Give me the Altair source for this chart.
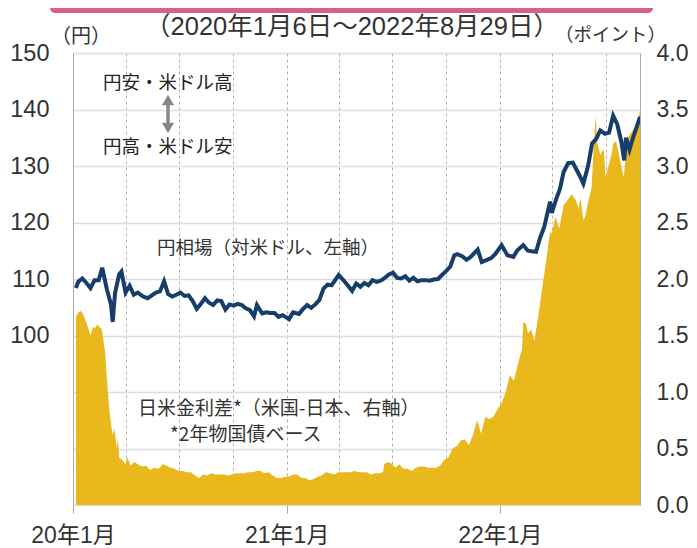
import altair as alt
import pandas as pd

# ---------------- data ----------------
fx_dates = [
    "2020-01-06", "2020-01-10", "2020-01-17", "2020-01-24", "2020-01-31", "2020-02-07", "2020-02-14",
    "2020-02-20", "2020-02-28", "2020-03-06", "2020-03-09", "2020-03-13", "2020-03-20", "2020-03-24",
    "2020-03-31", "2020-04-07", "2020-04-14", "2020-04-21", "2020-04-30", "2020-05-08", "2020-05-15",
    "2020-05-22", "2020-05-29", "2020-06-05", "2020-06-12", "2020-06-19", "2020-06-26", "2020-07-03",
    "2020-07-10", "2020-07-17", "2020-07-24", "2020-07-31", "2020-08-07", "2020-08-14", "2020-08-21",
    "2020-08-28", "2020-09-04", "2020-09-11", "2020-09-18", "2020-09-25", "2020-10-02", "2020-10-09",
    "2020-10-16", "2020-10-23", "2020-10-30", "2020-11-06", "2020-11-11", "2020-11-20", "2020-11-27",
    "2020-12-04", "2020-12-11", "2020-12-18", "2020-12-25", "2021-01-05", "2021-01-12", "2021-01-22",
    "2021-01-29", "2021-02-05", "2021-02-12", "2021-02-19", "2021-02-26", "2021-03-05", "2021-03-12",
    "2021-03-19", "2021-03-31", "2021-04-09", "2021-04-16", "2021-04-23", "2021-04-30", "2021-05-07",
    "2021-05-14", "2021-05-21", "2021-05-28", "2021-06-04", "2021-06-11", "2021-06-18", "2021-06-25",
    "2021-07-02", "2021-07-09", "2021-07-16", "2021-07-23", "2021-07-30", "2021-08-06", "2021-08-13",
    "2021-08-20", "2021-08-27", "2021-09-03", "2021-09-10", "2021-09-17", "2021-09-24", "2021-09-30",
    "2021-10-08", "2021-10-15", "2021-10-20", "2021-10-29", "2021-11-05", "2021-11-12", "2021-11-24",
    "2021-12-01", "2021-12-10", "2021-12-17", "2021-12-24", "2022-01-04", "2022-01-14", "2022-01-24",
    "2022-01-31", "2022-02-10", "2022-02-18", "2022-02-24", "2022-03-04", "2022-03-11", "2022-03-18",
    "2022-03-28", "2022-03-31", "2022-04-08", "2022-04-14", "2022-04-20", "2022-04-28", "2022-05-06",
    "2022-05-13", "2022-05-20", "2022-05-24", "2022-06-01", "2022-06-08", "2022-06-15", "2022-06-22",
    "2022-06-30", "2022-07-07", "2022-07-14", "2022-07-21", "2022-07-28", "2022-08-02", "2022-08-05",
    "2022-08-11", "2022-08-17", "2022-08-23", "2022-08-29",
]
fx_values = [
    108.4, 109.5, 110.1, 109.3, 108.4, 109.8, 109.8,
    112.0, 108.2, 105.5, 102.4, 107.5, 110.8, 111.3,
    107.6, 108.8, 107.2, 107.6, 106.9, 106.6, 107.1,
    107.6, 107.8, 109.6, 107.3, 106.9, 107.2, 107.6,
    107.0, 107.1, 106.1, 104.7, 105.6, 106.6, 105.8,
    105.4, 106.2, 106.1, 104.6, 105.5, 105.3, 105.6,
    105.4, 104.8, 104.5, 103.4, 105.4, 103.9, 104.1,
    104.0, 104.0, 103.3, 103.6, 102.9, 104.1, 103.8,
    104.7, 105.4, 104.9, 105.5, 106.3, 108.3, 109.0,
    108.9, 110.7, 109.7, 108.8, 107.9, 109.2, 108.6,
    109.3, 108.9, 109.8, 109.5, 109.7, 110.2, 110.8,
    111.1, 110.2, 110.1, 110.5, 109.7, 110.2, 109.6,
    109.8, 109.8, 109.7, 109.9, 110.0, 110.7, 111.3,
    112.2, 114.2, 114.4, 114.0, 113.4, 113.9, 115.2,
    113.0, 113.4, 113.7, 114.4, 116.0, 114.2, 113.9,
    115.1, 116.0, 115.0, 114.9, 114.8, 117.3, 119.2,
    123.7, 121.7, 124.3, 126.0, 128.9, 130.5, 130.6,
    129.2, 127.8, 126.9, 130.0, 134.0, 134.8, 136.3,
    135.7, 135.9, 138.9, 137.4, 134.3, 131.0, 135.0,
    132.9, 135.0, 136.8, 138.7,
]

spread_dates = [
    "2020-01-06", "2020-01-09", "2020-01-14", "2020-01-17", "2020-01-22", "2020-01-28", "2020-01-31",
    "2020-02-04", "2020-02-07", "2020-02-12", "2020-02-14", "2020-02-19", "2020-02-21", "2020-02-25",
    "2020-02-28", "2020-03-03", "2020-03-06", "2020-03-09", "2020-03-12", "2020-03-16", "2020-03-18",
    "2020-03-20", "2020-03-25", "2020-03-31", "2020-04-03", "2020-04-09", "2020-04-15", "2020-04-21",
    "2020-04-28", "2020-05-05", "2020-05-12", "2020-05-19", "2020-05-26", "2020-06-03", "2020-06-09",
    "2020-06-16", "2020-06-23", "2020-06-30", "2020-07-07", "2020-07-14", "2020-07-21", "2020-07-28",
    "2020-08-04", "2020-08-11", "2020-08-18", "2020-08-25", "2020-09-01", "2020-09-08", "2020-09-15",
    "2020-09-22", "2020-09-29", "2020-10-06", "2020-10-13", "2020-10-20", "2020-10-27", "2020-11-03",
    "2020-11-10", "2020-11-17", "2020-11-24", "2020-12-01", "2020-12-08", "2020-12-15", "2020-12-22",
    "2020-12-29", "2021-01-05", "2021-01-12", "2021-01-19", "2021-01-26", "2021-02-02", "2021-02-09",
    "2021-02-16", "2021-02-23", "2021-03-02", "2021-03-09", "2021-03-16", "2021-03-23", "2021-03-30",
    "2021-04-06", "2021-04-13", "2021-04-20", "2021-04-27", "2021-05-04", "2021-05-11", "2021-05-18",
    "2021-05-25", "2021-06-01", "2021-06-08", "2021-06-15", "2021-06-17", "2021-06-22", "2021-06-29",
    "2021-07-06", "2021-07-13", "2021-07-20", "2021-07-27", "2021-08-03", "2021-08-10", "2021-08-17",
    "2021-08-24", "2021-08-31", "2021-09-07", "2021-09-14", "2021-09-21", "2021-09-28", "2021-10-05",
    "2021-10-12", "2021-10-19", "2021-10-26", "2021-11-02", "2021-11-09", "2021-11-16", "2021-11-23",
    "2021-11-30", "2021-12-07", "2021-12-14", "2021-12-21", "2021-12-28", "2022-01-04", "2022-01-11",
    "2022-01-18", "2022-01-25", "2022-02-01", "2022-02-08", "2022-02-10", "2022-02-15", "2022-02-18",
    "2022-02-24", "2022-03-01", "2022-03-08", "2022-03-14", "2022-03-21", "2022-03-28", "2022-03-31",
    "2022-04-06", "2022-04-13", "2022-04-20", "2022-04-27", "2022-05-04", "2022-05-11", "2022-05-16",
    "2022-05-19", "2022-05-24", "2022-05-27", "2022-06-02", "2022-06-07", "2022-06-10", "2022-06-14",
    "2022-06-17", "2022-06-22", "2022-06-28", "2022-07-01", "2022-07-06", "2022-07-12", "2022-07-14",
    "2022-07-19", "2022-07-26", "2022-08-01", "2022-08-04", "2022-08-08", "2022-08-12", "2022-08-17",
    "2022-08-22", "2022-08-26", "2022-08-29",
]
spread_values = [
    1.66, 1.70, 1.72, 1.70, 1.64, 1.55, 1.50,
    1.58, 1.56, 1.60, 1.58, 1.56, 1.50, 1.35,
    1.12, 0.85, 0.72, 0.62, 0.68, 0.50, 0.60,
    0.42, 0.40, 0.36, 0.42, 0.35, 0.38, 0.36,
    0.34, 0.35, 0.31, 0.33, 0.32, 0.36, 0.35,
    0.33, 0.32, 0.30, 0.30, 0.29, 0.29, 0.26,
    0.24, 0.27, 0.26, 0.28, 0.27, 0.27, 0.27,
    0.26, 0.27, 0.28, 0.28, 0.28, 0.29, 0.29,
    0.30, 0.30, 0.28, 0.29, 0.26, 0.24, 0.24,
    0.25, 0.25, 0.27, 0.27, 0.24, 0.24, 0.22,
    0.23, 0.25, 0.26, 0.29, 0.28, 0.27, 0.29,
    0.29, 0.29, 0.29, 0.30, 0.29, 0.29, 0.29,
    0.27, 0.28, 0.28, 0.29, 0.36, 0.38, 0.37,
    0.33, 0.36, 0.32, 0.32, 0.30, 0.33, 0.34,
    0.34, 0.33, 0.33, 0.33, 0.35, 0.40, 0.42,
    0.50, 0.52, 0.57, 0.58, 0.53, 0.62, 0.75,
    0.63, 0.78, 0.76, 0.78, 0.85, 0.90, 1.00,
    1.15, 1.10, 1.25, 1.38, 1.62, 1.60, 1.52,
    1.55, 1.45, 1.68, 1.90, 2.15, 2.42, 2.40,
    2.55, 2.45, 2.65, 2.70, 2.75, 2.70, 2.62,
    2.72, 2.52, 2.55, 2.70, 2.80, 3.10, 3.44,
    3.20, 3.10, 3.15, 2.90, 3.00, 3.12, 3.20,
    3.22, 3.05, 2.90, 3.05, 3.25, 3.28, 3.32,
    3.35, 3.42, 3.49,
]

left_ticks = [70, 80, 90, 100, 110, 120, 130, 140, 150]
right_ticks = [0, 0.5, 1.0, 1.5, 2.0, 2.5, 3.0, 3.5, 4.0]

title_text = "（2020年1月6日～2022年8月29日）"
left_unit = "（円）"
right_unit = "（ポイント）"
fx_label = "円相場（対米ドル、左軸）"
spread_label = "日米金利差*（米国-日本、右軸）"
spread_note = "*2年物国債ベース"
weak_yen = "円安・米ドル高"
strong_yen = "円高・米ドル安"

fx_df = pd.DataFrame({"date": fx_dates, "fx": fx_values})
sp_df = pd.DataFrame({"date": spread_dates, "spread": spread_values})

LAT = "'Liberation Sans', 'Noto Sans CJK JP'"
JP = "'Noto Sans CJK JP'"
TXT = "#333333"

quarters = [alt.DateTime(year=y, month=m, date=1) for y in (2020, 2021, 2022) for m in (1, 4, 7, 10)
            if not (y == 2022 and m == 10)]
x_scale = alt.Scale(domain=[alt.DateTime(year=2020, month=1, date=1),
                            alt.DateTime(year=2022, month=8, date=29)])
x_axis = alt.Axis(
    values=quarters,
    labelExpr="month(datum.value) === 0 ? timeFormat(datum.value, '%y') + '年1月' : ''",
    grid=True, gridDash=[3, 3], gridColor="#b0b0b0", gridWidth=1,
    tickColor={"condition": {"test": "month(datum.value) === 0", "value": "#aaaaaa"},
               "value": "transparent"},
    tickSize=8, domain=False, labelFontSize=23, labelFont=LAT, labelColor=TXT,
    labelPadding=11, labelFlush=False, labelOverlap=False, title=None,
)
x_enc = alt.X("date:T", scale=x_scale, axis=x_axis)

area = alt.Chart(sp_df).mark_area(color="#E9B81C", opacity=1, clip=True).encode(
    x=x_enc,
    y=alt.Y("spread:Q", scale=alt.Scale(domain=[0, 4], nice=False),
            axis=alt.Axis(orient="right", values=right_ticks, format=".1f", grid=False,
                          ticks=False, domain=False, labelFontSize=23, labelFont=LAT,
                          labelColor=TXT, labelPadding=16, title=None)),
)

line = alt.Chart(fx_df).mark_line(color="#173E6B", strokeWidth=4, clip=True).encode(
    x=x_enc,
    y=alt.Y("fx:Q", scale=alt.Scale(domain=[70, 150], nice=False),
            axis=alt.Axis(orient="left", values=left_ticks,
                          labelExpr="datum.value >= 100 ? datum.label : ''",
                          grid=True, gridColor="#dddddd", gridWidth=1.5, ticks=False,
                          domainColor="#aaaaaa", labelFontSize=23.5, labelFont=LAT,
                          labelColor=TXT, labelPadding=24, title=None)),
)


def label(text, x, y, size=19, align="left", font=JP, color=TXT):
    return alt.Chart(pd.DataFrame({"t": [text]})).mark_text(
        align=align, baseline="middle", fontSize=size, font=font, color=color
    ).encode(text="t:N", x=alt.value(x), y=alt.value(y))


pink = alt.Chart(pd.DataFrame({"a": [0]})).mark_rect(color="#DA5F8D", cornerRadius=5).encode(
    x=alt.value(-23), x2=alt.value(580), y=alt.value(-60), y2=alt.value(-40)
)

arrow_shaft = alt.Chart(pd.DataFrame({"a": [0]})).mark_rule(color="#888888", strokeWidth=3.5).encode(
    x=alt.value(95), y=alt.value(49), y2=alt.value(73)
)
arrow_up = alt.Chart(pd.DataFrame({"a": [0]})).mark_point(
    shape="triangle-up", filled=True, color="#888888", size=150, opacity=1
).encode(x=alt.value(95), y=alt.value(47))
arrow_down = alt.Chart(pd.DataFrame({"a": [0]})).mark_point(
    shape="triangle-down", filled=True, color="#888888", size=150, opacity=1
).encode(x=alt.value(95), y=alt.value(75))

chart = alt.layer(
    area, line,
    pink,
    label(title_text, 279, -26, size=25.5, align="center", font=LAT),
    label(left_unit, -22, -16, size=20),
    label(right_unit, 482, -18, size=18.5),
    label(weak_yen, 30, 30, size=18.5, color="#222222"),
    label(strong_yen, 30, 94, size=18.5, color="#222222"),
    arrow_shaft, arrow_up, arrow_down,
    label(fx_label, 84, 195, size=18.5),
    label(spread_label, 65, 356, size=19),
    label(spread_note, 97, 382, size=19),
).resolve_scale(y="independent").properties(
    width=567, height=452,
    autosize=alt.AutoSizeParams(type="none"),
    padding={"left": 65, "top": 45, "right": 49, "bottom": 44},
).configure_view(stroke="#aaaaaa", strokeWidth=1)

chart.save("out.html", embed_options={"renderer": "svg", "actions": False})
